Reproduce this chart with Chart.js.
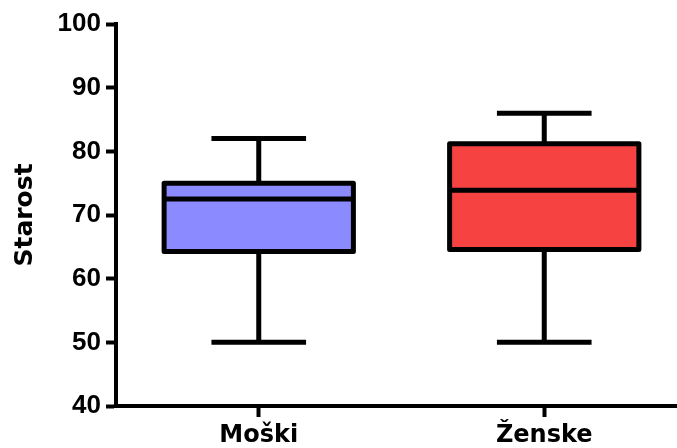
<!DOCTYPE html>
<html>
<head>
<meta charset="utf-8">
<title>Starost</title>
<script src="https://cdn.jsdelivr.net/npm/chart.js@4/dist/chart.umd.min.js"></script>
<style>
  html, body { margin: 0; padding: 0; background: #fff; overflow: hidden; }
  #wrap { width: 677px; height: 448px; overflow: hidden; }
</style>
</head>
<body>
<div id="wrap"><canvas id="age-box-chart" width="687" height="448"></canvas></div>
<script>
/* Box plot of age by sex (min / Q1 / median / Q3 / max) */
var groups = ['Moški', 'Ženske'];
var whiskerLow = [50, 50];
var quartile1 = [64.25, 64.6];
var medians = [72.5, 73.9];
var quartile3 = [75, 81.2];
var whiskerHigh = [82, 86];
var boxColors = ['#8b8bff', '#f74242'];
var yTicks = [40, 50, 60, 70, 80, 90, 100];

// whiskers, caps, box outline and median line, drawn over the floating bars
var boxPlotPlugin = {
  id: 'boxPlot',
  afterDatasetsDraw: function(chart) {
    var ctx = chart.ctx;
    var yScale = chart.scales.y;
    var bars = chart.getDatasetMeta(0).data;
    ctx.save();
    ctx.strokeStyle = '#000';
    ctx.lineWidth = 5;
    bars.forEach(function(bar, i) {
      var cx = bar.x;
      var half = bar.width / 2;
      var yMin = yScale.getPixelForValue(whiskerLow[i]);
      var yQ1 = yScale.getPixelForValue(quartile1[i]);
      var yMed = yScale.getPixelForValue(medians[i]);
      var yQ3 = yScale.getPixelForValue(quartile3[i]);
      var yMax = yScale.getPixelForValue(whiskerHigh[i]);

      ctx.lineCap = 'butt';
      ctx.beginPath();
      ctx.moveTo(cx, yQ3); ctx.lineTo(cx, yMax);
      ctx.moveTo(cx, yQ1); ctx.lineTo(cx, yMin);
      ctx.moveTo(cx - half / 2, yMax); ctx.lineTo(cx + half / 2, yMax);
      ctx.moveTo(cx - half / 2, yMin); ctx.lineTo(cx + half / 2, yMin);
      ctx.stroke();

      ctx.lineJoin = 'round';
      ctx.strokeRect(cx - half, yQ3, half * 2, yQ1 - yQ3);
      ctx.beginPath();
      ctx.moveTo(cx - half, yMed); ctx.lineTo(cx + half, yMed);
      ctx.stroke();
    });
    ctx.restore();
  }
};

var boxes = quartile1.map(function(q, i) { return [q, quartile3[i]]; });

new Chart(document.getElementById('age-box-chart'), {
  type: 'bar',
  data: {
    labels: groups,
    datasets: [{
      data: boxes,
      backgroundColor: boxColors,
      borderWidth: 0,
      barPercentage: 0.663,
      categoryPercentage: 1
    }]
  },
  options: {
    responsive: false,
    animation: false,
    layout: { padding: { top: 24, left: 0, right: 0, bottom: 0 } },
    plugins: {
      legend: { display: false },
      tooltip: { enabled: false }
    },
    scales: {
      x: {
        offset: true,
        afterFit: function(scale) { scale.height = 42; },
        grid: { offset: false, drawOnChartArea: false, tickLength: 11, tickWidth: 4, tickColor: '#000' },
        border: { display: true, color: '#000', width: 4 },
        ticks: {
          color: '#000',
          padding: 4,
          maxRotation: 0,
          autoSkip: false,
          font: { family: '"DejaVu Sans"', size: 24, weight: 'bold' }
        }
      },
      y: {
        min: 40,
        max: 100,
        afterFit: function(scale) { scale.width = 116; },
        afterBuildTicks: function(scale) {
          scale.ticks = yTicks.map(function(v) { return { value: v }; });
        },
        grid: { drawOnChartArea: false, tickLength: 10, tickWidth: 4, tickColor: '#000' },
        border: { display: true, color: '#000', width: 4 },
        ticks: {
          color: '#000',
          padding: 5,
          font: { family: '"Liberation Sans", Arial, sans-serif', size: 26, weight: 'bold' }
        },
        title: {
          display: true,
          text: 'Starost',
          color: '#000',
          padding: { top: 10, bottom: 0 },
          font: { family: '"DejaVu Sans"', size: 25, weight: 'bold' }
        }
      }
    }
  },
  plugins: [boxPlotPlugin]
});
</script>
</body>
</html>
